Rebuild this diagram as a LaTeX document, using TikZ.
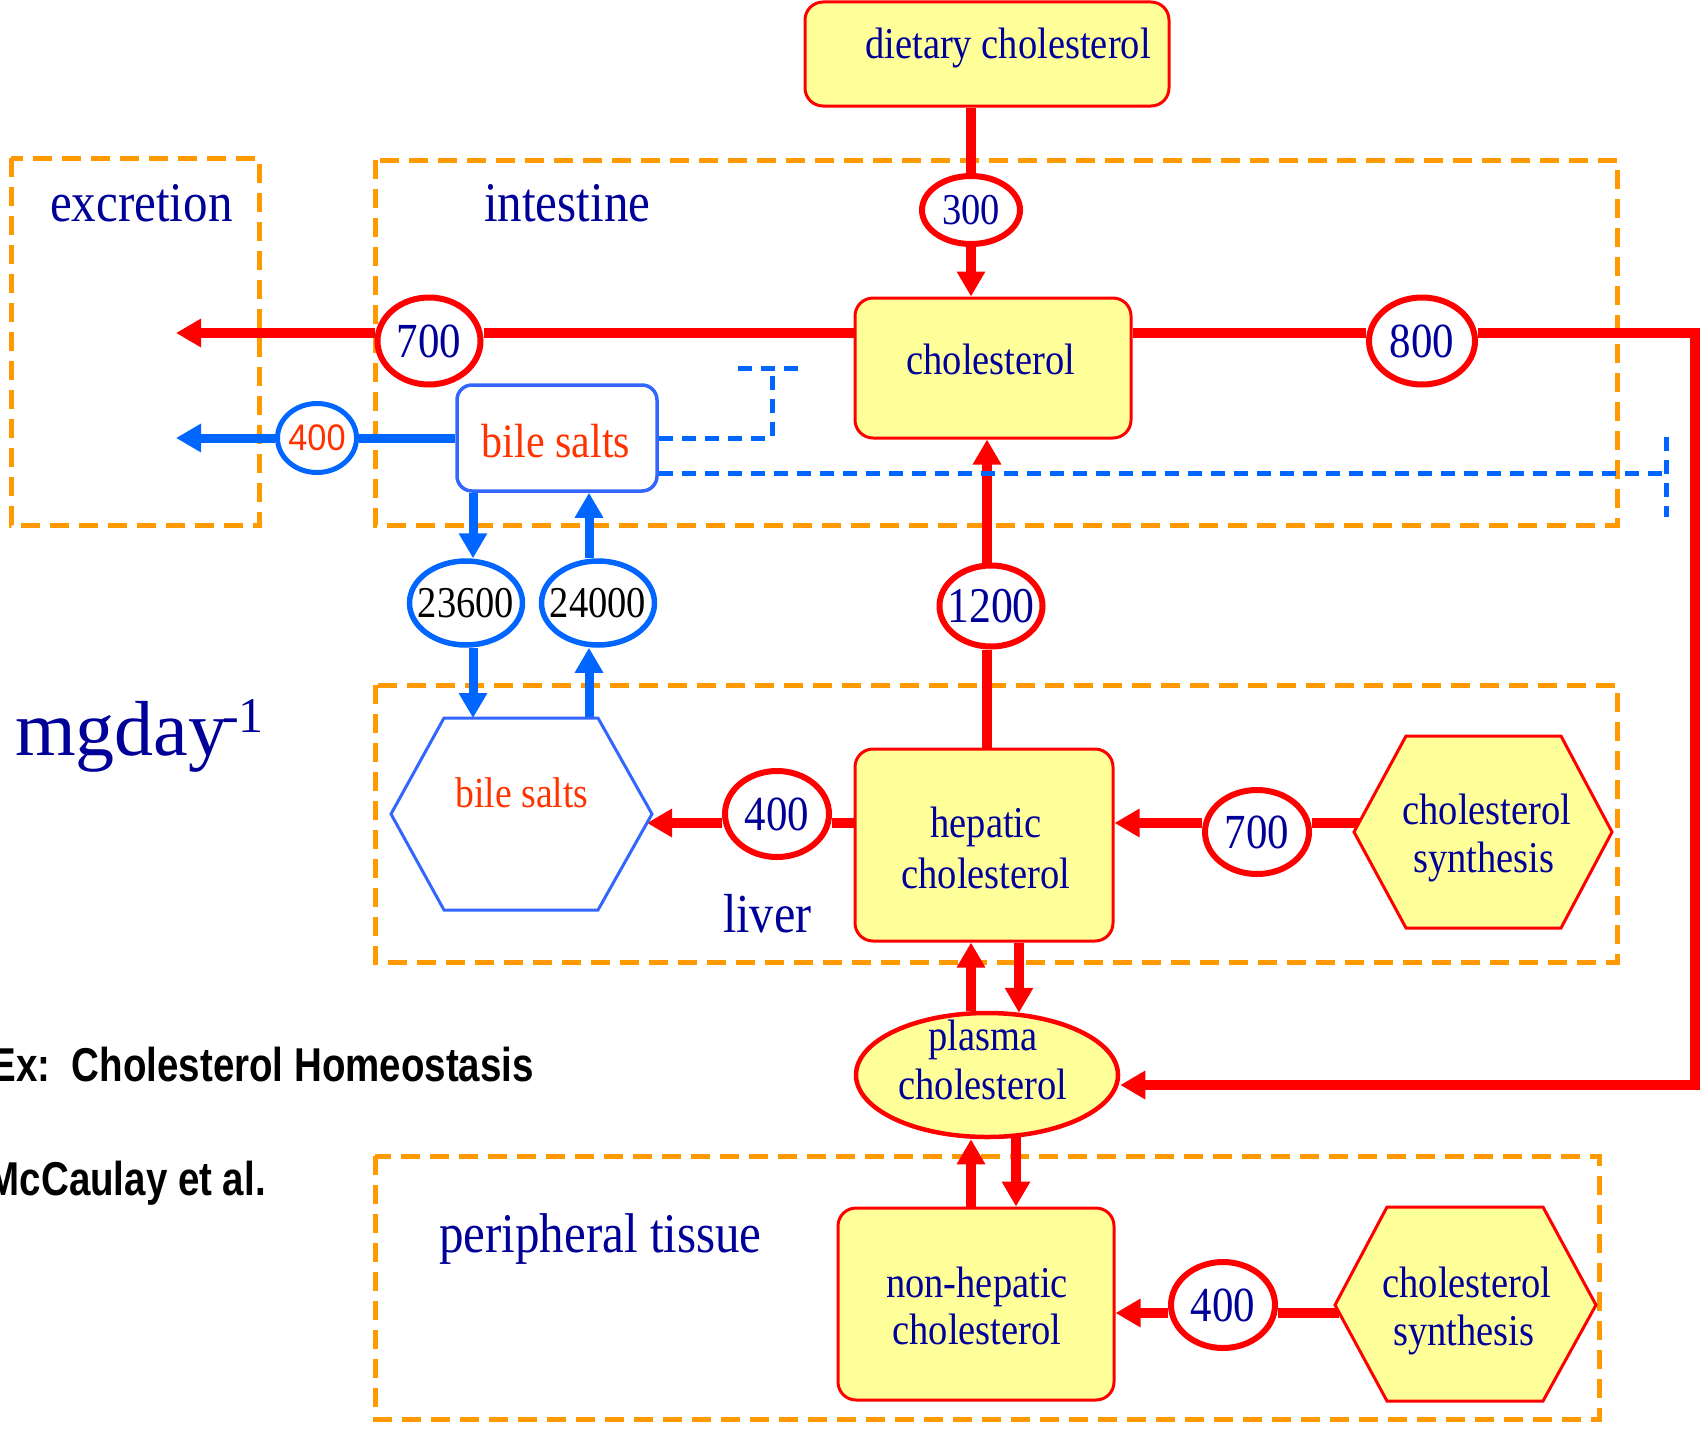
\documentclass[tikz,border=0pt]{standalone}
\usepackage{fontspec}
\usetikzlibrary{shapes.geometric,arrows.meta}
\newfontfamily\serifc[FakeStretch=0.875]{Liberation Serif}
\newfontfamily\serifn{Liberation Serif}
\newfontfamily\sansc[FakeStretch=0.93]{Liberation Sans}
\newfontfamily\sansb[FakeStretch=0.81]{Liberation Sans Bold}
\newcommand\txtsize[1]{\fontsize{#1}{#1}\selectfont}
% flux value set without widening its ellipse
\newcommand\fluxval[1]{\makebox[0pt]{#1}}
\definecolor{cred}{RGB}{255,0,0}
\definecolor{cyellow}{RGB}{255,255,153}
\definecolor{corange}{RGB}{255,153,0}
\definecolor{cnavy}{RGB}{0,0,153}
\definecolor{cblue}{RGB}{0,102,255}
\definecolor{cblueb}{RGB}{51,102,255}
\definecolor{cbile}{RGB}{255,51,0}
\pgfdeclarelayer{zones}
\pgfdeclarelayer{links}
\pgfsetlayers{zones,links,main}
\begin{document}
\begin{tikzpicture}[x=1pt,y=-1pt,
  zone/.style={draw=corange, line width=5pt, dash pattern=on 19pt off 10pt},
  ybox/.style={rectangle, draw=cred, line width=3pt, fill=cyellow, rounded corners=18pt, inner sep=0pt},
  hexa/.style={draw=cred, line width=3pt, fill=cyellow, line join=miter},
  flow/.style={ellipse, draw=cred, line width=6pt, fill=white, inner sep=0pt, text=cnavy},
  bflow/.style={ellipse, draw=cblue, line width=5.5pt, fill=white, inner sep=0pt},
  lbl/.style={inner sep=0pt, text=cnavy, anchor=base},
  rlink/.style={draw=cred, line width=9.5pt},
  rarr/.style={rlink, -{Triangle[length=25pt,width=27pt]}},
  blink/.style={draw=cblue, line width=9pt},
  barr/.style={blink, -{Triangle[length=25pt,width=27pt]}},
  inhib/.style={draw=cblue, line width=5pt, dash pattern=on 14pt off 9pt}]
\useasboundingbox (0,0) rectangle (1705,1429);

% compartments
\begin{pgfonlayer}{zones}
  \draw[zone] (11,158) rectangle (259,525);
  \draw[zone] (375,160) rectangle (1617,525);
  \draw[zone] (375,685) rectangle (1617,962);
  \draw[zone] (375,1156) rectangle (1599,1419);
\end{pgfonlayer}

% pools
\node[ybox, minimum width=364pt, minimum height=104pt] (diet) at (987,54) {};
\node[ybox, minimum width=276pt, minimum height=140pt] (chol) at (993,368) {};
\node[ybox, minimum width=258pt, minimum height=192pt] (hep) at (984,845) {};
\node[ybox, minimum width=276pt, minimum height=192pt] (nonhep) at (976,1304) {};
\node[ellipse, draw=cred, line width=4.5pt, fill=cyellow, inner sep=0pt,
      minimum width=262pt, minimum height=124pt] (plasma) at (987,1075) {};
\node[rectangle, draw=cblueb, line width=3.5pt, fill=white, rounded corners=15pt,
      minimum width=200pt, minimum height=106pt] (bile) at (557,438) {};

% hexagonal pools
\draw[hexa] (1354,832) -- (1406,736) -- (1561,736) -- (1612,832) -- (1561,928) -- (1406,928) -- cycle;
\draw[hexa] (1335,1305) -- (1387,1207) -- (1543,1207) -- (1596,1305) -- (1543,1401) -- (1387,1401) -- cycle;
\draw[draw=cblueb, line width=3pt, fill=white] (391,814) -- (444,718) -- (598,718) -- (652,814) -- (598,910) -- (444,910) -- cycle;

% flux values
\node[flow, minimum width=98pt, minimum height=68pt, font=\serifc\txtsize{44}] (e300) at (971,210) {\fluxval{300}};
\node[flow, minimum width=103pt, minimum height=87pt, font=\serifc\txtsize{49}] (e700a) at (429,341) {\fluxval{700}};
\node[flow, minimum width=106pt, minimum height=87pt, font=\serifc\txtsize{49}] (e800) at (1422,341) {\fluxval{800}};
\node[bflow, line width=5pt, minimum width=79pt, minimum height=69pt, text=cbile, font=\sansc\txtsize{37}] (e400b) at (317,438) {\fluxval{400}};
\node[flow, minimum width=103pt, minimum height=81pt, font=\serifc\txtsize{50}] (e1200) at (991,606) {\fluxval{1200}};
\node[bflow, minimum width=113pt, minimum height=84pt, font=\serifc\txtsize{44}] (e23600) at (466,603) {\fluxval{23600}};
\node[bflow, minimum width=113pt, minimum height=84pt, font=\serifc\txtsize{44}] (e24000) at (598,603) {\fluxval{24000}};
\node[flow, minimum width=104pt, minimum height=86pt, font=\serifc\txtsize{49}] (e400L) at (777,814) {\fluxval{400}};
\node[flow, minimum width=104pt, minimum height=84pt, font=\serifc\txtsize{49}] (e700L) at (1257,832) {\fluxval{700}};
\node[flow, minimum width=104pt, minimum height=86pt, font=\serifc\txtsize{49}] (e400P) at (1223,1305) {\fluxval{400}};

% reference levels and free ends
\coordinate (lvTop) at (0,333);
\coordinate (lvBlue) at (0,438);
\coordinate (lvLiv) at (0,823);
\coordinate (lvPer) at (0,1313);
\coordinate (xDiet) at (971,0);
\coordinate (xCol) at (987,0);
\coordinate (xUp) at (971,0);
\coordinate (xDn1) at (1019,0);
\coordinate (xDn2) at (1016,0);
\coordinate (xB1) at (473,0);
\coordinate (xB2) at (589,0);
\coordinate (exR) at (176,333);
\coordinate (exB) at (176,438);
\coordinate (loopA) at (1695,333);
\coordinate (loopB) at (1695,1085);
\coordinate (bhexE) at (647,823);
\coordinate (bhexTop1) at (473,718);
\coordinate (bhexTop2) at (589,718);
\coordinate (sLedge) at (1362,823);
\coordinate (sPedge) at (1339,1313);
\coordinate (inhA) at (772,438);
\coordinate (inhB) at (772,368);
\coordinate (inhBarL) at (738,368);
\coordinate (inhBarR) at (805,368);
\coordinate (inhC) at (1666,473);
\coordinate (inhBarT) at (1666,437);
\coordinate (inhBarB) at (1666,517);

\begin{pgfonlayer}{links}
  % cholesterol fluxes
  \draw[rlink] (xDiet |- diet.south) -- (xDiet |- e300.north);
  \draw[rarr] (xDiet |- e300.south) -- (xDiet |- chol.north);
  \draw[rlink] (chol.west |- lvTop) -- (e700a.east |- lvTop);
  \draw[rarr] (e700a.west |- lvTop) -- (exR);
  \draw[rlink] (chol.east |- lvTop) -- (e800.west |- lvTop);
  \draw[rarr] (e800.east |- lvTop) -- (loopA) -- (loopB) -- (plasma.east |- loopB);
  \draw[rlink] (xCol |- hep.north) -- (xCol |- e1200.south);
  \draw[rarr] (xCol |- e1200.north) -- (xCol |- chol.south);
  \draw[rlink] (hep.west |- lvLiv) -- (e400L.east |- lvLiv);
  \draw[rarr] (e400L.west |- lvLiv) -- (bhexE);
  \draw[rlink] (sLedge) -- (e700L.east |- lvLiv);
  \draw[rarr] (e700L.west |- lvLiv) -- (hep.east |- lvLiv);
  \draw[rarr] (xUp |- plasma.north) -- (xUp |- hep.south);
  \draw[rarr] (xDn1 |- hep.south) -- ([yshift=-2pt]xDn1 |- plasma.north);
  \draw[rarr] (xUp |- nonhep.north) -- (xUp |- plasma.south);
  \draw[rarr] ([yshift=2pt]xDn2 |- plasma.south) -- (xDn2 |- nonhep.north);
  \draw[rlink] (sPedge) -- (e400P.east |- lvPer);
  \draw[rarr] (e400P.west |- lvPer) -- (nonhep.east |- lvPer);
  % bile salt fluxes
  \draw[blink] (bile.west |- lvBlue) -- (e400b.east);
  \draw[barr] (e400b.west) -- (exB);
  \draw[barr] (xB1 |- bile.south) -- (xB1 |- e23600.north);
  \draw[barr] (xB1 |- e23600.south) -- (bhexTop1);
  \draw[barr] (bhexTop2) -- (xB2 |- e24000.south);
  \draw[barr] (xB2 |- e24000.north) -- (xB2 |- bile.south);
  % feedback inhibition
  \draw[inhib] (bile.east |- lvBlue) -- (inhA) -- (inhB);
  \draw[inhib] (inhBarL) -- (inhBarR);
  \draw[inhib] (bile.east |- inhC) -- (inhC);
  \draw[inhib] (inhBarT) -- (inhBarB);
\end{pgfonlayer}

% pool labels
\node[lbl, font=\serifc\txtsize{44}] (dietT) at (1008,59) {dietary cholesterol};
\node[lbl, font=\serifc\txtsize{44}] (cholT) at (991,374) {cholesterol};
\node[lbl, text=cbile, font=\serifc\txtsize{48}] (bileT) at (556,457) {bile salts};
\node[lbl, text=cbile, font=\serifc\txtsize{43}] (bhexT) at (522,807) {bile salts};
\node[lbl, font=\serifc\txtsize{44}] (hepT1) at (986,837) {hepatic};
\node[lbl, font=\serifc\txtsize{44}] (hepT2) at (986,888) {cholesterol};
\node[lbl, font=\serifc\txtsize{44}] (plasT1) at (983,1050) {plasma};
\node[lbl, font=\serifc\txtsize{44}] (plasT2) at (983,1099) {cholesterol};
\node[lbl, font=\serifc\txtsize{44}] (nhT1) at (977,1297) {non-hepatic};
\node[lbl, font=\serifc\txtsize{44}] (nhT2) at (977,1344) {cholesterol};
\node[lbl, font=\serifc\txtsize{44}] (sLT1) at (1487,824) {cholesterol};
\node[lbl, font=\serifc\txtsize{44}] (sLT2) at (1484,872) {synthesis};
\node[lbl, font=\serifc\txtsize{44}] (sPT1) at (1467,1297) {cholesterol};
\node[lbl, font=\serifc\txtsize{44}] (sPT2) at (1464,1345) {synthesis};

% compartment labels
\node[lbl, anchor=base west, font=\serifc\txtsize{56}] (excT) at (50,221) {excretion};
\node[lbl, anchor=base west, font=\serifc\txtsize{56}] (intT) at (484,221) {intestine};
\node[lbl, anchor=base west, font=\serifc\txtsize{55}] (livT) at (723,932) {liver};
\node[lbl, anchor=base west, font=\serifc\txtsize{56}] (perT) at (439,1252) {peripheral tissue};

% units and caption
\node[lbl, anchor=base west, font=\serifn\txtsize{78}] (unit) at (15,755) {mgday};
\node[lbl, anchor=base west, font=\serifn\txtsize{50}] (unitExp) at (222,732) {-1};
\node[inner sep=0pt, anchor=base east, font=\sansb\txtsize{47.5}] (title) at (534,1081) {Ex:\ \ Cholesterol Homeostasis};
\node[inner sep=0pt, anchor=base east, font=\sansb\txtsize{47.5}] (cite) at (266,1195) {McCaulay et al.};
\end{tikzpicture}
\end{document}
